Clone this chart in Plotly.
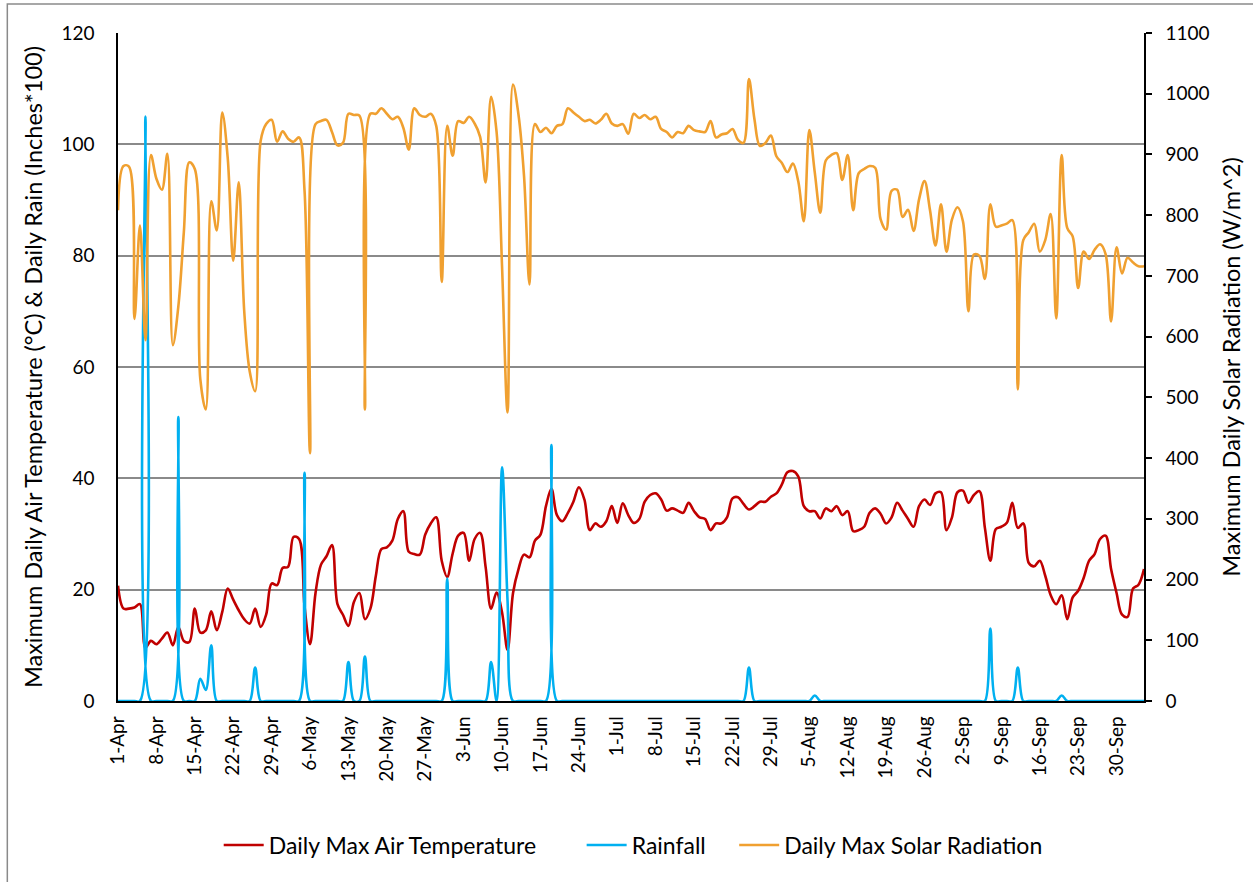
import pandas as pd
import plotly.graph_objects as go

# ---------------- data (daily, 1-Apr .. 5-Oct) ----------------
start_date = "2023-04-01"
n_days = 188

max_air_temp = [
    20.7, 16.6, 16.6, 16.8, 17.4, 9.6, 10.8, 10.2, 11.2, 12.3,
    10.0, 13.3, 10.8, 10.6, 16.6, 12.3, 12.7, 16.1, 12.7, 16.0,
    20.2, 18.2, 16.3, 14.7, 13.9, 16.6, 13.3, 15.5, 21.1, 20.8,
    23.9, 24.1, 29.5, 29.1, 17.0, 10.2, 19.4, 24.5, 26.0, 28.0,
    17.4, 15.5, 13.5, 17.8, 19.4, 14.7, 16.6, 22.5, 27.3, 27.6,
    28.8, 32.7, 34.1, 26.8, 26.4, 26.3, 29.9, 31.9, 33.0, 25.2,
    22.3, 26.5, 29.7, 30.2, 25.2, 29.1, 30.2, 24.1, 16.6, 19.5,
    15.9, 9.2, 19.4, 23.7, 26.3, 25.8, 28.8, 29.9, 35.0, 38.1,
    33.4, 32.3, 33.8, 35.8, 38.4, 36.2, 30.7, 31.9, 31.3, 32.3,
    35.0, 32.0, 35.5, 33.4, 32.0, 32.7, 35.8, 37.0, 37.3, 36.2,
    34.2, 34.6, 34.2, 33.8, 35.6, 34.1, 33.0, 32.7, 30.7, 31.9,
    31.9, 33.0, 36.4, 36.6, 35.4, 34.4, 35.0, 35.8, 35.8, 36.7,
    37.3, 38.9, 41.1, 41.3, 40.3, 35.0, 34.1, 34.1, 32.8, 34.6,
    34.1, 35.0, 33.4, 34.1, 30.5, 30.7, 31.3, 33.8, 34.6, 33.6,
    31.9, 33.0, 35.6, 34.2, 32.7, 31.3, 35.0, 36.2, 35.2, 37.3,
    37.5, 30.7, 33.0, 37.5, 37.8, 35.6, 37.0, 37.7, 31.1, 25.2,
    30.9, 31.3, 32.0, 35.6, 31.1, 31.9, 24.8, 24.2, 25.2, 22.5,
    19.0, 17.4, 19.0, 14.7, 18.6, 19.8, 22.1, 25.2, 26.4, 29.1,
    29.7, 23.7, 19.4, 15.5, 15.1, 20.2, 20.9, 23.7,
]

rainfall = [
    0, 0, 0, 0, 0, 105, 0, 0, 0, 0,
    0, 51, 0, 0, 0, 4, 2, 10, 0, 0,
    0, 0, 0, 0, 0, 6, 0, 0, 0, 0,
    0, 0, 0, 0, 41, 0, 0, 0, 0, 0,
    0, 0, 7, 0, 0, 8, 0, 0, 0, 0,
    0, 0, 0, 0, 0, 0, 0, 0, 0, 0,
    22, 0, 0, 0, 0, 0, 0, 0, 7, 0,
    42, 18, 0, 0, 0, 0, 0, 0, 0, 46,
    0, 0, 0, 0, 0, 0, 0, 0, 0, 0,
    0, 0, 0, 0, 0, 0, 0, 0, 0, 0,
    0, 0, 0, 0, 0, 0, 0, 0, 0, 0,
    0, 0, 0, 0, 0, 6, 0, 0, 0, 0,
    0, 0, 0, 0, 0, 0, 0, 1, 0, 0,
    0, 0, 0, 0, 0, 0, 0, 0, 0, 0,
    0, 0, 0, 0, 0, 0, 0, 0, 0, 0,
    0, 0, 0, 0, 0, 0, 0, 0, 0, 13,
    0, 0, 0, 0, 6, 0, 0, 0, 0, 0,
    0, 0, 1, 0, 0, 0, 0, 0, 0, 0,
    0, 0, 0, 0, 0, 0, 0, 0,
]

max_solar_rad = [
    808, 881, 880, 629, 783, 594, 899, 860, 842, 901,
    586, 650, 772, 887, 876, 530, 480, 823, 775, 969,
    894, 725, 854, 643, 543, 510, 922, 950, 957, 921,
    938, 926, 921, 928, 840, 408, 950, 955, 957, 937,
    915, 919, 967, 965, 964, 480, 967, 967, 976, 967,
    958, 962, 944, 908, 976, 965, 962, 967, 947, 690,
    947, 898, 955, 952, 962, 951, 929, 854, 995, 937,
    715, 475, 1015, 965, 865, 686, 950, 937, 944, 935,
    947, 950, 976, 969, 962, 955, 957, 951, 957, 967,
    951, 947, 950, 934, 967, 960, 965, 958, 962, 942,
    937, 928, 937, 935, 947, 940, 938, 937, 955, 928,
    933, 935, 942, 924, 919, 1024, 958, 914, 919, 931,
    897, 886, 871, 885, 855, 790, 940, 870, 804, 890,
    899, 902, 858, 899, 808, 869, 876, 881, 878, 793,
    776, 840, 842, 797, 809, 774, 826, 856, 808, 750,
    818, 740, 793, 813, 790, 642, 735, 733, 695, 818,
    781, 783, 786, 792, 513, 759, 772, 786, 740, 759,
    802, 630, 899, 779, 765, 680, 740, 728, 743, 752,
    736, 625, 747, 704, 730, 722, 716, 716,
]

series_names = ["Daily Max Air Temperature", "Rainfall", "Daily Max Solar Radiation"]
left_title = "Maximum Daily Air Temperature (°C) & Daily Rain (Inches*100)"
right_title = "Maximum Daily Solar Radiation (W/m^2)"

dates = pd.date_range(start_date, periods=n_days, freq="D")
tick_dates = pd.date_range(start_date, "2023-09-30", freq="7D")
tick_text = [f"{d.day}-{d.strftime('%b')}" for d in tick_dates]

FONT = "Lato"
RED = "#C00000"
BLUE = "#00B0F0"
ORANGE = "#F0A030"
SMOOTH = 1.0

fig = go.Figure()
fig.add_trace(go.Scatter(x=dates, y=max_air_temp, name=series_names[0], mode="lines", legend="legend",
                         line=dict(color=RED, width=2.6, shape="spline", smoothing=SMOOTH)))
fig.add_trace(go.Scatter(x=dates, y=rainfall, name=series_names[1], mode="lines", legend="legend2",
                         line=dict(color=BLUE, width=2.6, shape="spline", smoothing=SMOOTH)))
fig.add_trace(go.Scatter(x=dates, y=max_solar_rad, name=series_names[2], mode="lines", yaxis="y2",
                         legend="legend3",
                         line=dict(color=ORANGE, width=2.6, shape="spline", smoothing=SMOOTH)))

# plot area in pixels: x 118..1147, y 33..701
L, R, T, B = 118, 1147, 33, 701
W, H = 1253, 882
pw, ph = R - L, B - T

def px(x):
    return (x - L) / pw

def py(y):
    return (B - y) / ph

def legend_at(xpix):
    return dict(orientation="h", x=px(xpix), xanchor="left", y=py(845), yanchor="middle",
                font=dict(family=FONT, size=23, color="#000000"),
                bgcolor="rgba(0,0,0,0)", borderwidth=0, itemwidth=40)

fig.update_layout(
    width=W, height=H,
    margin=dict(l=L, r=W - R, t=T, b=H - B, pad=0),
    paper_bgcolor="white", plot_bgcolor="white",
    font=dict(family=FONT, size=20, color="#000000"),
    showlegend=True,
    legend=legend_at(219),
    legend2=legend_at(583),
    legend3=legend_at(736),
    xaxis=dict(type="date", range=[dates[0], dates[-1]],
               tickvals=list(tick_dates), ticktext=tick_text, tickangle=-90,
               showgrid=False, zeroline=False, showline=True, linecolor="#000000", linewidth=1.5,
               ticks="", ticklabelstandoff=6,
               tickfont=dict(family=FONT, size=19, color="#000000")),
    yaxis=dict(range=[0, 120], dtick=20, tick0=0, showgrid=True, gridcolor="#8a8a8a", gridwidth=1.5,
               zeroline=False, showline=True, linecolor="#000000", linewidth=1.5,
               ticks="", ticklabelstandoff=18,
               tickfont=dict(family=FONT, size=19, color="#000000"),
               title=dict(text=left_title, standoff=12, font=dict(family=FONT, size=23.5))),
    yaxis2=dict(range=[0, 1100], dtick=100, tick0=0, overlaying="y", side="right", showgrid=False,
                zeroline=False, showline=True, linecolor="#000000", linewidth=1.5,
                ticks="outside", ticklen=6, tickwidth=1.5, tickcolor="#000000", ticklabelstandoff=10,
                tickfont=dict(family=FONT, size=19, color="#000000"),
                title=dict(text=right_title, standoff=15, font=dict(family=FONT, size=23.5))),
    shapes=[dict(type="rect", xref="paper", yref="paper",
                 x0=px(7), x1=px(1265), y0=py(900), y1=py(4),
                 line=dict(color="#8a8a8a", width=1.5), fillcolor="rgba(0,0,0,0)", layer="above")],
)

fig.write_html("out.html")
